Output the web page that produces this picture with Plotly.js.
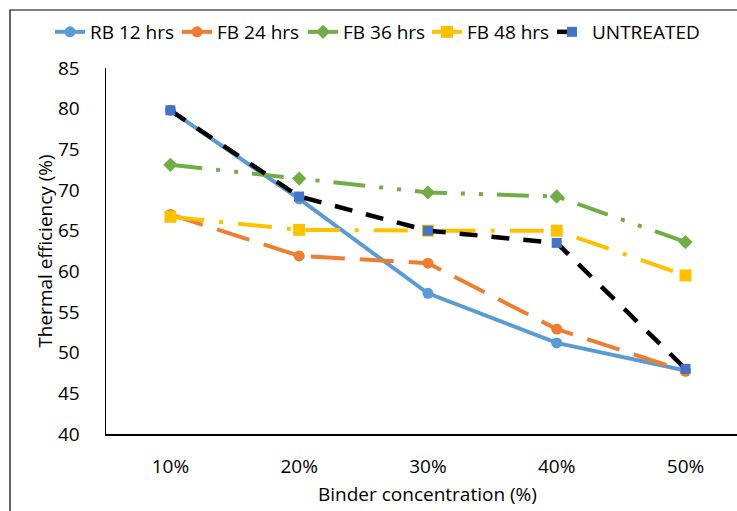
<!DOCTYPE html>
<html>
<head>
<meta charset="utf-8">
<script src="https://cdn.plot.ly/plotly-3.0.1.min.js"></script>
<style>html,body{margin:0;padding:0;background:#fff;}#chart{width:737px;height:511px;}</style>
</head>
<body>
<div id="chart"></div>
<script>
const categories = ["10%", "20%", "30%", "40%", "50%"];
const rb12 = [79.8, 68.9, 57.3, 51.2, 47.8];
const fb24 = [67.0, 61.9, 61.0, 52.9, 47.7];
const fb36 = [73.1, 71.4, 69.7, 69.2, 63.6];
const fb48 = [66.7, 65.1, 65.0, 65.0, 59.5];
const untreated = [79.8, 69.2, 65.0, 63.5, 48.0];
const seriesNames = ["RB 12 hrs", "FB 24 hrs", "FB 36 hrs", "FB 48 hrs", "UNTREATED"];
const yTicks = [40, 45, 50, 55, 60, 65, 70, 75, 80, 85];

const FONT = "'Open Sans', sans-serif";
const xIdx = categories.map((c, i) => i);

const traces = [
  {name: seriesNames[0], y: rb12, legend: "legend",
   line: {color: "#5B9BD5", width: 4, dash: "solid"},
   marker: {symbol: "circle", size: 11, color: "#5B9BD5"}},
  {name: seriesNames[1], y: fb24, legend: "legend2",
   line: {color: "#ED7D31", width: 4, dash: "34px,15px"},
   marker: {symbol: "circle", size: 11, color: "#ED7D31"}},
  {name: seriesNames[2], y: fb36, legend: "legend3",
   line: {color: "#70AD47", width: 4, dash: "32px,14px,4px,14px,4px,14px"},
   marker: {symbol: "diamond", size: 11, color: "#70AD47"}},
  {name: seriesNames[3], y: fb48, legend: "legend4",
   line: {color: "#FFC000", width: 4, dash: "34px,15px,4px,15px"},
   marker: {symbol: "square", size: 12, color: "#FFC000"}},
  {name: seriesNames[4], y: untreated, legend: "legend5",
   line: {color: "#000000", width: 4.5, dash: "18px,14px"},
   marker: {symbol: "square", size: 10, color: "#4472C4"}}
].map(t => Object.assign({type: "scatter", mode: "lines+markers", x: xIdx, cliponaxis: false}, t));

// legend item text starts (pixel) used only for placing the separate legends
const legendTextStart = [90, 217, 343, 467, 592];
function legendAt(px) {
  return {orientation: "h", x: (px - 40 - 106) / 631, xref: "paper", xanchor: "left",
          y: (434 - 32) / 366, yanchor: "middle", bgcolor: "rgba(0,0,0,0)",
          font: {family: FONT, size: 19, color: "#000"}, itemwidth: 30};
}

const layout = {
  width: 737, height: 511,
  margin: {l: 106, r: 0, t: 68, b: 77, pad: 0},
  paper_bgcolor: "#fff", plot_bgcolor: "#fff",
  font: {family: FONT, size: 19, color: "#000"},
  showlegend: true,
  legend: legendAt(legendTextStart[0]),
  legend2: legendAt(legendTextStart[1]),
  legend3: legendAt(legendTextStart[2]),
  legend4: legendAt(legendTextStart[3]),
  legend5: legendAt(legendTextStart[4]),
  xaxis: {
    range: [-0.5, 4.4], tickmode: "array", tickvals: xIdx, ticktext: categories,
    showgrid: false, zeroline: false, showline: true, linecolor: "#000", linewidth: 1.5,
    ticks: "", ticklabelstandoff: 15, tickfont: {family: FONT, size: 19, color: "#000"},
    fixedrange: true
  },
  yaxis: {
    range: [40, 85], tickmode: "array", tickvals: yTicks,
    showgrid: false, zeroline: false, showline: true, linecolor: "#000", linewidth: 1.5,
    ticks: "", ticklabelstandoff: 21, tickfont: {family: FONT, size: 19, color: "#000"},
    title: {text: "Thermal efficiency (%)", font: {family: FONT, size: 19, color: "#000"}, standoff: 0},
    fixedrange: true
  },
  annotations: [{
    xref: "x", yref: "paper", x: 2, y: -0.163, xanchor: "center", yanchor: "middle",
    text: "Binder concentration (%)", showarrow: false,
    font: {family: FONT, size: 19, color: "#000"}
  }],
  shapes: [{
    type: "rect", xref: "paper", yref: "paper",
    x0: (10 - 106) / 631, x1: 1.2, y0: -0.3, y1: (434 - 10) / 366,
    line: {color: "#000", width: 1.2}, fillcolor: "rgba(0,0,0,0)", layer: "below"
  }]
};

Plotly.newPlot("chart", traces, layout, {displayModeBar: false, staticPlot: true});
</script>
</body>
</html>
